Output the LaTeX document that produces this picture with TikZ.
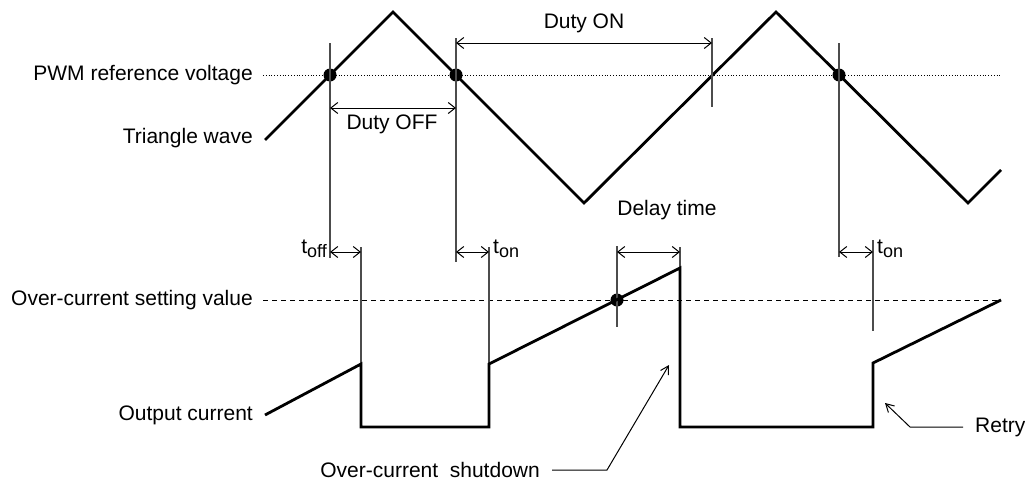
\documentclass[tikz,border=0pt]{standalone}
\usepackage{fontspec}
\setmainfont{Liberation Sans}
\usetikzlibrary{arrows.meta}

\tikzset{
  wave/.style={line width=2.8pt, line join=miter},
  guide/.style={line width=1.3pt, draw=black!70},
  span/.style={line width=1pt, {Straight Barb[length=7pt,width=11pt]}-{Straight Barb[length=7pt,width=11pt]}},
  pointer/.style={line width=1pt, -{Straight Barb[length=8pt,width=9pt]}},
  lbl/.style={font=\fontsize{21}{24}\selectfont, inner sep=0pt},
  dot/.style={circle, fill=black, inner sep=0pt, minimum size=13pt},
}
\newcommand{\tsub}[1]{t\raisebox{-4pt}{\fontsize{18}{18}\selectfont #1}}

\begin{document}
\begin{tikzpicture}[x=1pt, y=-1pt]
    \useasboundingbox (0,0) rectangle (1025,482);

    % Left hand labels
    \node[lbl, anchor=east] (pwmlbl) at (253,75) {PWM reference voltage};
    \node[lbl, anchor=east] (trilbl) at (253,138) {Triangle wave};
    \node[lbl, anchor=east] (setlbl) at (253,300) {Over-current setting value};
    \node[lbl, anchor=east] (outlbl) at (253,415) {Output current};

    % Reference levels
    \coordinate (vrefend) at (1000,75);
    \coordinate (isetend) at (1000,300);
    \draw[line width=0.8pt, dotted, shorten <=10pt] (pwmlbl.east) -- (vrefend);
    \draw[line width=1pt, dash pattern=on 5pt off 4pt, shorten <=10pt] (setlbl.east) -- (isetend);

    % Triangle wave
    \draw[wave] (265,140) -- (393,12) -- (584,203) -- (776,12) -- (968,203) -- (1001,170);

    % Crossing points
    \node[dot] (x1) at (330,75) {};
    \node[dot] (x2) at (456,75) {};
    \node[dot] (x3) at (839,75) {};
    \node[dot] (x4) at (617,300) {};

    % Guide lines
    \draw[guide] (330,43) -- (330,258);
    \draw[guide] (456,38) -- (456,262);
    \draw[guide] (712,38) -- (712,107);
    \draw[guide] (839,43) -- (839,257);
    \draw[guide] (361,247) -- (361,364);
    \draw[guide] (489,247) -- (489,364);
    \draw[guide] (617,246) -- (617,327);
    \draw[guide] (680,247) -- (680,268);
    \draw[guide] (873,240) -- (873,331);

    % Output current
    \draw[wave] (265,415) -- (361,364) -- (361,427) -- (489,427) -- (489,364)
        -- (680,268) -- (680,427) -- (873,427) -- (873,363) -- (1001,300);

    % Duty spans
    \coordinate (offa) at (330,108);
    \coordinate (offb) at (456,108);
    \draw[span] (offa) -- (offb);
    \node[lbl] (dutyoff) at (392,124) {Duty OFF};
    \coordinate (ona) at (456,43);
    \coordinate (onb) at (712,43);
    \draw[span] (ona) -- (onb);
    \node[lbl] (dutyon) at (584,23) {Duty ON};

    % Delays
    \coordinate (ta) at (330,252);
    \coordinate (tb) at (361,252);
    \draw[span] (ta) -- (tb);
    \node[lbl, anchor=east] (toff) at (327,249) {\tsub{off}};
    \coordinate (tc) at (456,252);
    \coordinate (td) at (489,252);
    \draw[span] (tc) -- (td);
    \node[lbl, anchor=west] (ton1) at (493,249) {\tsub{on}};
    \coordinate (te) at (617,252);
    \coordinate (tf) at (680,252);
    \draw[span] (te) -- (tf);
    \node[lbl] (delay) at (667,210) {Delay time};
    \coordinate (tg) at (839,252);
    \coordinate (th) at (873,252);
    \draw[span] (tg) -- (th);
    \node[lbl, anchor=west] (ton2) at (877,249) {\tsub{on}};

    % Callouts
    \node[lbl, anchor=east] (ocslbl) at (540,470) {Over-current\ \ shutdown};
    \coordinate (ocsknee) at (607,470);
    \coordinate (ocstip) at (669,365);
    \draw[pointer, shorten <=12pt] (ocslbl.east) -- (ocsknee) -- (ocstip);
    \node[lbl, anchor=west] (retrylbl) at (975,427) {Retry};
    \coordinate (retryknee) at (910,427);
    \coordinate (retrytip) at (885,403);
    \draw[pointer, shorten <=12pt] (retrylbl.west) -- (retryknee) -- (retrytip);
\end{tikzpicture}
\end{document}
